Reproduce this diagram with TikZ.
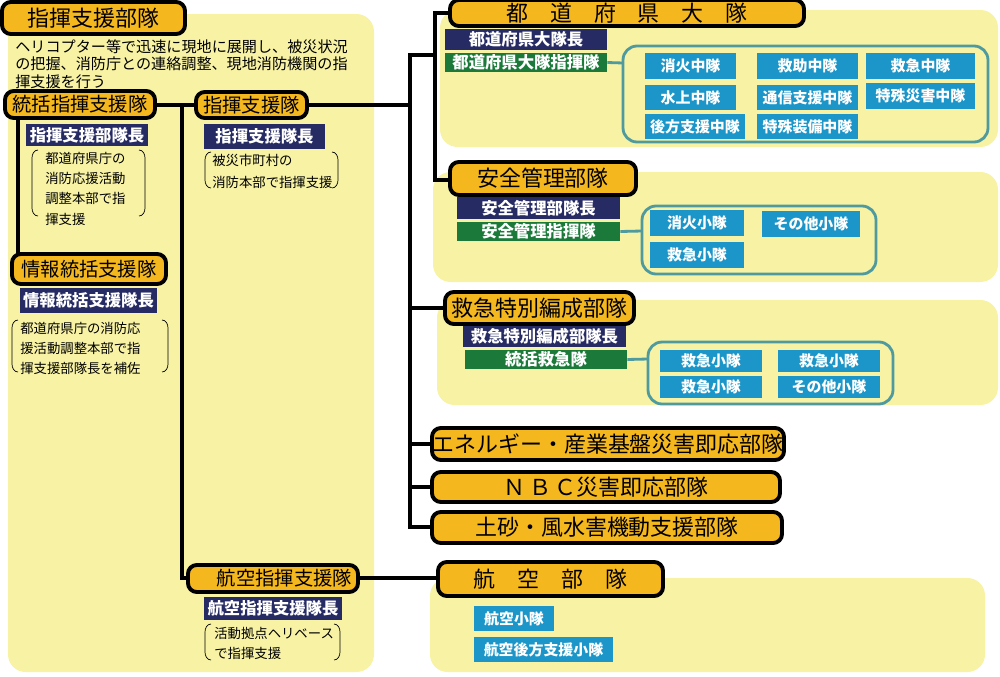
\documentclass[tikz,border=0pt]{standalone}
\usepackage{fontspec}
\setmainfont{Noto Sans CJK JP}
\usetikzlibrary{positioning}
\definecolor{hdr}{HTML}{F4B71E}
\definecolor{pane}{HTML}{F7F2A4}
\definecolor{chief}{HTML}{262B63}
\definecolor{cmd}{HTML}{1B7A3A}
\definecolor{unit}{HTML}{1C96C8}
\definecolor{frame}{HTML}{4E9A9E}
\tikzset{
  hbox/.style={draw, line width=2.2pt, fill=hdr, rounded corners=5pt, inner sep=0pt, font=\fontsize{11}{13}\selectfont},
  cbox/.style={fill=chief, text=white, font=\bfseries\fontsize{9.3}{11}\selectfont, inner sep=0pt},
  gbox/.style={fill=cmd, text=white, font=\bfseries\fontsize{9.3}{11}\selectfont, inner sep=0pt},
  ubox/.style={fill=unit, text=white, font=\bfseries\fontsize{8.5}{10}\selectfont, inner sep=0pt},
  note/.style={font=\fontsize{7.6}{11.5}\selectfont, align=left, anchor=north west, inner sep=0pt},
  conn/.style={line width=2.3pt, line cap=rect},
  tframe/.style={draw=frame, line width=1.6pt, rounded corners=8pt},
  pnl/.style={fill=pane, rounded corners=10pt}
}
% box from corners: style, name, x1, y1, x2, y2, text
\newcommand{\bx}[7]{%
  \node[#1, minimum width={0.02cm*(#5-#3)}, minimum height={0.02cm*(#6-#4)}]
    at ({(#3+#5)/2},{(#4+#6)/2}) (#2) {#7};}
\newcommand{\brk}[4]{% x1,y1,x2,y2
  \draw[thin] (#1+6,#2) to[out=180,in=90] (#1,#2+8) -- (#1,#4-8) to[out=-90,in=180] (#1+6,#4);
  \draw[thin] (#3-6,#2) to[out=0,in=90] (#3,#2+8) -- (#3,#4-8) to[out=-90,in=0] (#3-6,#4);}
\begin{document}
\begin{tikzpicture}[x=0.02cm, y=-0.02cm]
        \useasboundingbox (0,0) rectangle (1000,676);
        % panels
        \fill[pnl] (8,14) rectangle (374,672);
        \fill[pnl] (440,10) rectangle (998,147);
        \fill[pnl] (433,172) rectangle (998,282);
        \fill[pnl] (437,300) rectangle (998,405);
        \fill[pnl] (430,578) rectangle (985,672);

        % connectors
        \coordinate (jl) at (18,118);
        \coordinate (jm) at (182,105);
        \coordinate (jr) at (410,105);
        \coordinate (jt) at (435,55);
        \coordinate (jtop) at (435,13);
        \coordinate (jsafe) at (435,180);
        \draw[conn] (jl) -- (18,268) -- (30,268);
        \draw[conn] (90,105) -- (250,105);
        \draw[conn] (jm) |- (250,578);
        \draw[conn] (250,105) -- (jr);
        \draw[conn] (410,55) -- (410,527) -- (470,527);
        \draw[conn] (410,55) -- (jt);
        \draw[conn] (470,13) -- (jtop) -- (jsafe) -- (470,180);
        \draw[conn] (410,308) -- (470,308);
        \draw[conn] (410,444) -- (470,444);
        \draw[conn] (410,487) -- (470,487);
        \draw[conn] (250,578) -- (470,578);

        % left side
        \bx{hbox, font=\fontsize{12.5}{15}\selectfont}{hq}{2}{2}{185}{34}{指揮支援部隊}
        \node[note, font=\fontsize{8.6}{10}\selectfont] at (15,39) (hq_txt) {ヘリコプター等で迅速に現地に展開し、被災状況\\の把握、消防庁との連絡調整、現地消防機関の指\\揮支援を行う};

        \bx{hbox}{tokatsu}{5}{91}{155}{118}{統括指揮支援隊}
        \bx{cbox}{tokatsu_c}{26}{124}{148}{146}{指揮支援部隊長}
        \node[note] at (45,152) (tokatsu_txt) {都道府県庁の\\消防応援活動\\調整本部で指\\揮支援};
        \brk{32}{150}{145}{216}

        \bx{hbox}{joho}{12}{254}{166}{284}{情報統括支援隊}
        \bx{cbox}{joho_c}{20}{288}{157}{313}{情報統括支援隊長}
        \node[note] at (20,322) (joho_txt) {都道府県庁の消防応\\援活動調整本部で指\\揮支援部隊長を補佐};
        \brk{12}{320}{168}{372}

        \bx{hbox}{shien}{196}{92}{307}{118}{指揮支援隊}
        \bx{cbox}{shien_c}{204}{124}{325}{149}{指揮支援隊長}
        \node[note, font=\fontsize{7.6}{12.5}\selectfont] at (212,154) (shien_txt) {被災市町村の\\消防本部で指揮支援};
        \brk{205}{152}{338}{188}

        \bx{hbox}{kshien}{188}{565}{358}{592}{\hspace*{1.2em}航空指揮支援隊}
        \bx{cbox}{kshien_c}{204}{597}{342}{620}{航空指揮支援隊長}
        \node[note] at (214,627) (kshien_txt) {活動拠点ヘリベース\\で指揮支援};
        \brk{205}{624}{340}{660}

        % prefectural
        \bx{hbox, font=\fontsize{12.5}{15}\selectfont}{todo}{450}{0}{804}{26}{都\quad 道\quad 府\quad 県\quad 大\quad 隊}
        \bx{cbox}{todo_c}{445}{29}{607}{50}{都道府県大隊長}
        \bx{gbox}{todo_g}{445}{53}{607}{72}{都道府県大隊指揮隊}
        \draw[tframe] (623,46) rectangle (988,142);
        \coordinate (todo_f) at (623,63);
        \bx{ubox}{u11}{645}{53}{736}{79}{消火中隊}
        \bx{ubox}{u12}{757}{53}{858}{79}{救助中隊}
        \bx{ubox}{u13}{866}{53}{975}{79}{救急中隊}
        \bx{ubox}{u21}{645}{85}{736}{110}{水上中隊}
        \bx{ubox}{u22}{757}{85}{858}{110}{通信支援中隊}
        \bx{ubox}{u23}{866}{83}{975}{109}{特殊災害中隊}
        \bx{ubox}{u31}{645}{114}{745}{139}{後方支援中隊}
        \bx{ubox}{u32}{757}{114}{858}{139}{特殊装備中隊}

        % safety
        \bx{hbox, font=\fontsize{12.5}{15}\selectfont}{anzen}{450}{162}{636}{195}{安全管理部隊}
        \bx{cbox}{anzen_c}{457}{197}{620}{219}{安全管理部隊長}
        \bx{gbox}{anzen_g}{457}{222}{620}{241}{安全管理指揮隊}
        \draw[tframe] (642,206) rectangle (876,274);
        \coordinate (anzen_f) at (642,231);
        \bx{ubox}{s1}{650}{210}{744}{236}{消火小隊}
        \bx{ubox}{s2}{762}{211}{860}{237}{その他小隊}
        \bx{ubox}{s3}{650}{242}{744}{268}{救急小隊}

        % ambulance
        \bx{hbox, font=\fontsize{12.5}{15}\selectfont}{kyukyu}{445}{292}{634}{324}{救急特別編成部隊}
        \bx{cbox}{kyukyu_c}{463}{326}{626}{347}{救急特別編成部隊長}
        \bx{gbox}{kyukyu_g}{465}{350}{627}{369}{統括救急隊}
        \draw[tframe] (648,342) rectangle (893,404);
        \coordinate (kyukyu_f) at (648,359);
        \bx{ubox}{k1}{660}{350}{762}{372}{救急小隊}
        \bx{ubox}{k2}{778}{350}{880}{372}{救急小隊}
        \bx{ubox}{k3}{660}{376}{762}{398}{救急小隊}
        \bx{ubox}{k4}{778}{376}{880}{398}{その他小隊}

        \bx{hbox, font=\fontsize{12.5}{15}\selectfont}{energy}{432}{428}{784}{460}{エネルギー・産業基盤災害即応部隊}
        \bx{hbox, font=\fontsize{12.5}{15}\selectfont}{nbc}{432}{472}{780}{502}{Ｎ\,Ｂ\,Ｃ災害即応部隊}
        \bx{hbox, font=\fontsize{12.5}{15}\selectfont}{dosha}{432}{512}{782}{543}{土砂・風水害機動支援部隊}

        % aviation
        \bx{hbox, font=\fontsize{12.5}{15}\selectfont}{koku}{438}{562}{663}{596}{航\quad 空\quad 部\quad 隊}
        \bx{ubox}{a1}{474}{606}{554}{631}{航空小隊}
        \bx{ubox}{a2}{474}{637}{613}{662}{航空後方支援小隊}

        \draw[frame, line width=1.6pt] (todo_g.east) -- (todo_f);
        \draw[frame, line width=1.6pt] (anzen_g.east) -- (anzen_f);
        \draw[frame, line width=1.6pt] (kyukyu_g.east) -- (kyukyu_f);
    \end{tikzpicture}
\end{document}
